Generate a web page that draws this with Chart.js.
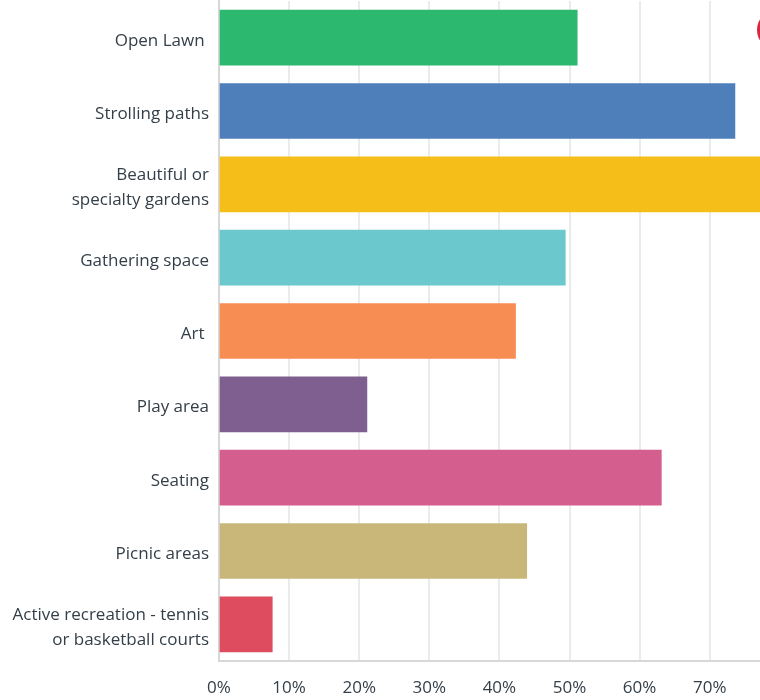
<!DOCTYPE html>
<html>
<head>
<meta charset="utf-8">
<script src="https://cdn.jsdelivr.net/npm/chart.js@4/dist/chart.umd.min.js"></script>
<style>
    html, body { margin: 0; padding: 0; background: #ffffff; overflow: hidden; }
    #wrap { position: relative; width: 760px; height: 700px; overflow: hidden; }
    #chart { position: absolute; left: 0; top: 0; }
    .badge { position: absolute; left: 757px; top: 10px; width: 40px; height: 40px; border-radius: 50%; background: #d7263d; }
</style>
</head>
<body>
<div id="wrap">
    <canvas id="chart" width="920" height="700"></canvas>
    <div class="badge"></div>
</div>
<script>
// Answer options (trailing spaces kept as in the source survey)
const categories = [
    'Open Lawn ',
    'Strolling paths',
    ['Beautiful or', 'specialty gardens'],
    'Gathering space',
    'Art ',
    'Play area',
    'Seating',
    'Picnic areas',
    ['Active recreation - tennis', 'or basketball courts']
];

// Percent of respondents
const percentages = [51.1, 73.6, 82.0, 49.4, 42.3, 21.1, 63.1, 43.9, 7.6];

const barColors = [
    '#2db86f', '#4f7fba', '#f6be19', '#6bc8cc', '#f78d53',
    '#7e5f8f', '#d45e8d', '#c9b77a', '#de4c5f'
];

const xTicks = [0, 10, 20, 30, 40, 50, 60, 70, 80, 90, 100];

const textColor = '#333e48';
const fontFamily = '"Open Sans", "Noto Sans", sans-serif';

const ctx = document.getElementById('chart');

new Chart(ctx, {
    type: 'bar',
    data: {
        labels: categories,
        datasets: [{
            data: percentages,
            backgroundColor: barColors,
            borderWidth: 0,
            barThickness: 55
        }]
    },
    options: {
        indexAxis: 'y',
        responsive: false,
        animation: false,
        devicePixelRatio: 1,
        layout: {
            padding: { top: 1, right: 0, left: 0, bottom: 0 }
        },
        plugins: {
            legend: { display: false },
            tooltip: { enabled: false }
        },
        scales: {
            x: {
                min: 0,
                max: 100,
                afterBuildTicks: (scale) => {
                    scale.ticks = xTicks.map(v => ({ value: v }));
                },
                afterFit: (scale) => {
                    scale.height = 39;
                    scale.paddingLeft = 0;
                    scale.paddingRight = 0;
                },
                grid: {
                    color: '#e9ecec',
                    lineWidth: 2,
                    drawTicks: false
                },
                border: { color: '#d6d8d8', width: 2 },
                ticks: {
                    padding: 17,
                    color: textColor,
                    font: { family: fontFamily, size: 17 },
                    callback: (value) => value <= 70 ? value + '%' : ''
                }
            },
            y: {
                afterFit: (scale) => {
                    scale.width = 219;
                    scale.paddingTop = 0;
                    scale.paddingBottom = 0;
                },
                grid: { display: false, drawTicks: false },
                border: { color: '#d6d8d8', width: 2 },
                ticks: {
                    padding: 10,
                    labelOffset: 3,
                    color: textColor,
                    font: { family: fontFamily, size: 17, lineHeight: 1.47 }
                }
            }
        }
    }
});
</script>
</body>
</html>
